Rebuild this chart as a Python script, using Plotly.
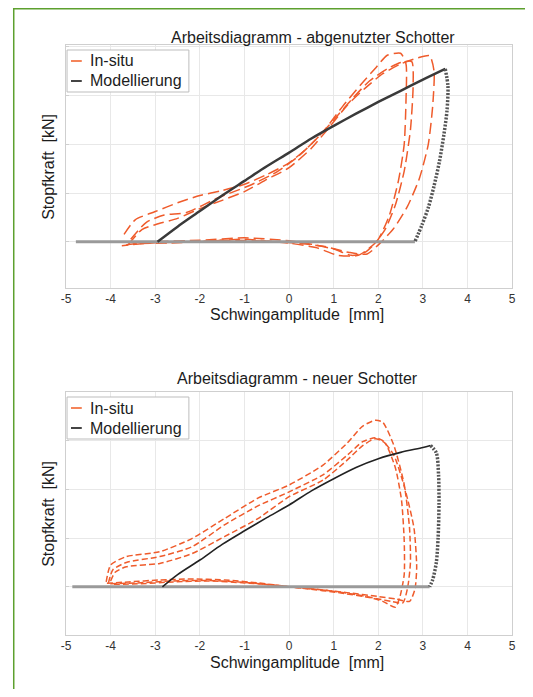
import plotly.graph_objects as go

# ---------------- data ----------------
x_ticks = [-5, -4, -3, -2, -1, 0, 1, 2, 3, 4, 5]
x_tick_labels = ["-5", "-4", "-3", "-2", "-1", "0", "1", "2", "3", "4", "5"]
y_ticks = [0, 1, 2, 3, 4]

# Top chart: abgenutzter Schotter
top_insitu_a_x = [-3.70, -3.45, -3.0, -2.5, -2.0, -1.5, -1.0, -0.5, 0.0, 0.4, 0.8, 1.2, 1.6, 1.95, 2.2, 2.5, 2.62, 2.62, 2.58, 2.45, 2.25, 2.0, 1.7, 1.4, 1.0, 0.5, 0.0, -1.0, -2.0, -3.0, -3.65]
top_insitu_a_y = [0.15, 0.45, 0.62, 0.80, 0.95, 1.05, 1.18, 1.38, 1.62, 1.92, 2.30, 2.78, 3.22, 3.58, 3.83, 3.87, 3.65, 2.90, 2.00, 1.25, 0.55, 0.05, -0.22, -0.28, -0.15, -0.05, 0.02, 0.08, 0.03, 0.0, -0.06]
top_insitu_b_x = [-3.60, -3.30, -3.0, -2.5, -2.0, -1.5, -1.0, -0.5, 0.0, 0.5, 0.9, 1.3, 1.7, 2.1, 2.5, 2.9, 3.15, 3.25, 3.22, 3.12, 2.92, 2.65, 2.35, 2.05, 1.75, 1.35, 0.8, 0.3, -0.5, -1.5, -2.5, -3.5]
top_insitu_b_y = [-0.05, 0.25, 0.35, 0.48, 0.68, 0.85, 1.03, 1.28, 1.52, 1.92, 2.35, 2.80, 3.15, 3.45, 3.65, 3.78, 3.82, 3.50, 2.80, 2.00, 1.30, 0.72, 0.28, -0.02, -0.25, -0.22, -0.10, -0.04, 0.01, 0.03, -0.02, -0.04]
top_insitu_c_x = [-3.55, -3.2, -2.8, -2.3, -1.6, -0.9, -0.3, 0.2, 0.6, 1.0, 1.4, 1.8, 2.2, 2.5, 2.75, 2.78, 2.72, 2.58, 2.38, 2.15, 1.9, 1.55, 1.1, 0.6, 0.0, -1.0, -2.0, -3.0, -3.75]
top_insitu_c_y = [0.05, 0.40, 0.55, 0.60, 0.90, 1.15, 1.42, 1.75, 2.10, 2.50, 2.92, 3.30, 3.55, 3.68, 3.70, 3.20, 2.30, 1.45, 0.75, 0.25, -0.05, -0.28, -0.28, -0.12, -0.03, 0.05, 0.0, -0.02, -0.08]

top_model_base_x = [-4.78, 2.82]
top_model_base_y = [0, 0]
top_model_load_x = [-2.95, -2.5, -2.0, -1.5, -1.0, -0.5, 0.0, 0.5, 1.0, 1.5, 2.0, 2.5, 3.0, 3.5]
top_model_load_y = [0.0, 0.31, 0.63, 0.95, 1.25, 1.55, 1.83, 2.12, 2.38, 2.63, 2.87, 3.10, 3.33, 3.55]
top_model_unload_x = [3.5, 3.56, 3.54, 3.47, 3.37, 3.25, 3.12, 2.98, 2.82]
top_model_unload_y = [3.55, 3.2, 2.7, 2.2, 1.65, 1.15, 0.7, 0.35, 0.0]

# Bottom chart: neuer Schotter
bot_insitu_a_x = [-4.10, -4.0, -3.65, -2.9, -2.18, -1.45, -0.7, 0.0, 0.76, 1.3, 1.65, 1.93, 2.1, 2.35, 2.58, 2.70, 2.72, 2.66, 2.55, 2.3, 2.0, 1.5, 0.8, 0.0, -0.7, -1.45, -2.2, -2.9, -3.6, -4.1]
bot_insitu_a_y = [0.10, 0.45, 0.62, 0.72, 0.99, 1.40, 1.82, 2.09, 2.50, 2.95, 3.30, 3.42, 3.38, 2.90, 2.10, 1.20, 0.50, 0.00, -0.33, -0.30, -0.25, -0.16, -0.07, 0.00, 0.08, 0.14, 0.16, 0.14, 0.10, 0.07]
bot_insitu_b_x = [-4.05, -3.95, -3.65, -2.9, -2.18, -1.45, -0.7, 0.0, 0.76, 1.3, 1.65, 1.93, 2.1, 2.35, 2.6, 2.8, 2.86, 2.82, 2.7, 2.4, 2.0, 1.3, 0.5, -0.3, -1.0, -1.8, -2.6, -3.4, -4.05]
bot_insitu_b_y = [0.08, 0.35, 0.50, 0.62, 0.82, 1.27, 1.66, 1.95, 2.30, 2.70, 2.98, 3.06, 3.00, 2.70, 2.00, 1.20, 0.40, -0.05, -0.30, -0.25, -0.20, -0.12, -0.04, 0.03, 0.09, 0.13, 0.12, 0.08, 0.06]
bot_insitu_c_x = [-4.0, -3.9, -3.65, -2.9, -2.18, -1.45, -0.7, 0.0, 0.76, 1.3, 1.65, 1.93, 2.15, 2.38, 2.52, 2.58, 2.58, 2.48, 2.38, 2.1, 1.8, 1.1, 0.4, -0.3, -1.0, -1.8, -2.6, -3.4, -4.0]
bot_insitu_c_y = [0.12, 0.30, 0.41, 0.48, 0.68, 1.03, 1.40, 1.85, 2.19, 2.60, 2.90, 3.04, 2.95, 2.45, 1.78, 0.95, 0.25, -0.22, -0.42, -0.30, -0.22, -0.12, -0.04, 0.03, 0.08, 0.12, 0.10, 0.06, 0.05]

bot_model_base_x = [-4.86, 3.15]
bot_model_base_y = [0, 0]
bot_model_load_x = [-2.84, -2.5, -2.0, -1.5, -1.0, -0.5, 0.0, 0.5, 1.0, 1.5, 2.0, 2.5, 3.0, 3.17]
bot_model_load_y = [0.0, 0.25, 0.55, 0.87, 1.15, 1.42, 1.68, 1.97, 2.22, 2.45, 2.63, 2.76, 2.86, 2.90]
bot_model_unload_x = [3.17, 3.3, 3.35, 3.36, 3.34, 3.3, 3.22, 3.15]
bot_model_unload_y = [2.90, 2.75, 2.3, 1.7, 1.0, 0.5, 0.15, 0.0]

titles = ["Arbeitsdiagramm - abgenutzter Schotter", "Arbeitsdiagramm - neuer Schotter"]
x_label = "Schwingamplitude  [mm]"
y_label = "Stopfkraft  [kN]"
legend_labels = ["In-situ", "Modellierung"]

# ---------------- styling ----------------
# The page body has an 8px margin, so the figure is drawn 16px smaller and
# page coordinates are shifted by 8px.
PAGE_OFF = 8
W, H = 533 - 2 * PAGE_OFF, 697 - 2 * PAGE_OFF
FONT = "Liberation Sans, Arial, sans-serif"
ORANGE = "#ef5b2b"
MODEL = "#3a3a3a"
BASE = "#9a9a9a"
TXT = "#1c1c1c"


def px(x):
    return (x - PAGE_OFF) / W


def py(y):
    return 1 - (y - PAGE_OFF) / H


fig = go.Figure()


def add_panel(ax, ins, base, load, unload, dash, load_w, load_col):
    xa = "x" if ax == 1 else "x2"
    ya = "y" if ax == 1 else "y2"
    for (xs, ys) in ins:
        fig.add_trace(go.Scatter(x=xs, y=ys, mode="lines", xaxis=xa, yaxis=ya,
                                 line=dict(color=ORANGE, width=1.5, dash=dash, shape="spline", smoothing=0.6),
                                 showlegend=False, name=legend_labels[0]))
    fig.add_trace(go.Scatter(x=base[0], y=base[1], mode="lines", xaxis=xa, yaxis=ya,
                             line=dict(color=BASE, width=3), showlegend=False, name=legend_labels[1]))
    fig.add_trace(go.Scatter(x=load[0], y=load[1], mode="lines", xaxis=xa, yaxis=ya,
                             line=dict(color=load_col, width=load_w, shape="spline", smoothing=0.8),
                             showlegend=False, name=legend_labels[1]))
    fig.add_trace(go.Scatter(x=unload[0], y=unload[1], mode="lines", xaxis=xa, yaxis=ya,
                             line=dict(color="#555555", width=3.5, dash="2px,1.5px", shape="spline", smoothing=0.8),
                             showlegend=False, name=legend_labels[1]))


add_panel(1,
          [(top_insitu_a_x, top_insitu_a_y), (top_insitu_b_x, top_insitu_b_y), (top_insitu_c_x, top_insitu_c_y)],
          (top_model_base_x, top_model_base_y), (top_model_load_x, top_model_load_y),
          (top_model_unload_x, top_model_unload_y), "11px,5px", 2.5, MODEL)
add_panel(2,
          [(bot_insitu_a_x, bot_insitu_a_y), (bot_insitu_b_x, bot_insitu_b_y), (bot_insitu_c_x, bot_insitu_c_y)],
          (bot_model_base_x, bot_model_base_y), (bot_model_load_x, bot_model_load_y),
          (bot_model_unload_x, bot_model_unload_y), "6px,3px", 1.6, "#222222")

xaxis_common = dict(range=[-5, 5], tickvals=x_ticks, ticktext=x_tick_labels,
                    showgrid=True, gridcolor="#e8e8e8", gridwidth=1, zeroline=False,
                    showline=True, linecolor="#cfcfcf", linewidth=1, mirror=True,
                    ticks="", tickfont=dict(family=FONT, size=12, color="#333"))
yaxis_common = dict(tickvals=y_ticks, showticklabels=False,
                    showgrid=True, gridcolor="#e8e8e8", gridwidth=1, zeroline=False,
                    showline=True, linecolor="#cfcfcf", linewidth=1, mirror=True,
                    ticks="inside", ticklen=3, tickcolor="#cfcfcf")

top_box = (62, 45, 516, 288)
bot_box = (62, 392, 516, 635)

fig.update_layout(
    width=W, height=H, autosize=False,
    margin=dict(l=0, r=0, t=0, b=0),
    paper_bgcolor="white", plot_bgcolor="white",
    showlegend=False,
    xaxis=dict(domain=[px(top_box[0]), px(top_box[2])], anchor="y", **xaxis_common),
    yaxis=dict(domain=[py(top_box[3]), py(top_box[1])], anchor="x", range=[-0.95, 4.04], **yaxis_common),
    xaxis2=dict(domain=[px(bot_box[0]), px(bot_box[2])], anchor="y2", **xaxis_common),
    yaxis2=dict(domain=[py(bot_box[3]), py(bot_box[1])], anchor="x2", range=[-0.99, 4.0], **yaxis_common),
)

shapes = []
annotations = []

# green frame (left and top edges visible)
shapes.append(dict(type="rect", xref="paper", yref="paper",
                   x0=px(8.75), x1=px(600), y0=py(760), y1=py(8.75),
                   line=dict(color="#5da02e", width=1.5), fillcolor="rgba(0,0,0,0)", layer="above"))


def panel_text(title, title_cx, title_cy, box):
    l, t, r, b = box
    annotations.append(dict(text=title, xref="paper", yref="paper", x=px(title_cx), y=py(title_cy),
                            xanchor="center", yanchor="middle", showarrow=False,
                            font=dict(family=FONT, size=16, color=TXT)))
    annotations.append(dict(text=x_label, xref="paper", yref="paper", x=px(297), y=py(b + 27),
                            xanchor="center", yanchor="middle", showarrow=False,
                            font=dict(family=FONT, size=16, color=TXT)))
    annotations.append(dict(text=y_label, xref="paper", yref="paper", x=px(44), y=py((t + b) / 2),
                            xanchor="center", yanchor="middle", showarrow=False, textangle=-90,
                            font=dict(family=FONT, size=16, color=TXT)))
    # legend box
    lx0, ly0, lx1, ly1 = l + 1, t + 5, l + 125, t + 47
    shapes.append(dict(type="rect", xref="paper", yref="paper",
                       x0=px(lx0), x1=px(lx1), y0=py(ly1), y1=py(ly0),
                       line=dict(color="#bdbdbd", width=1), fillcolor="white", layer="above"))
    rows = [(ly0 + 11, "#f4845a", legend_labels[0]), (ly0 + 31, "#444444", legend_labels[1])]
    for ry, col, lab in rows:
        shapes.append(dict(type="line", xref="paper", yref="paper",
                           x0=px(lx0 + 4), x1=px(lx0 + 15), y0=py(ry), y1=py(ry),
                           line=dict(color=col, width=2), layer="above"))
        annotations.append(dict(text=lab, xref="paper", yref="paper", x=px(lx0 + 21), y=py(ry),
                                xanchor="left", yanchor="middle", showarrow=False,
                                font=dict(family=FONT, size=16, color=TXT)))


panel_text(titles[0], 313, 37, top_box)
panel_text(titles[1], 298, 378, bot_box)

fig.update_layout(shapes=shapes, annotations=annotations)

fig.write_html("out.html")
